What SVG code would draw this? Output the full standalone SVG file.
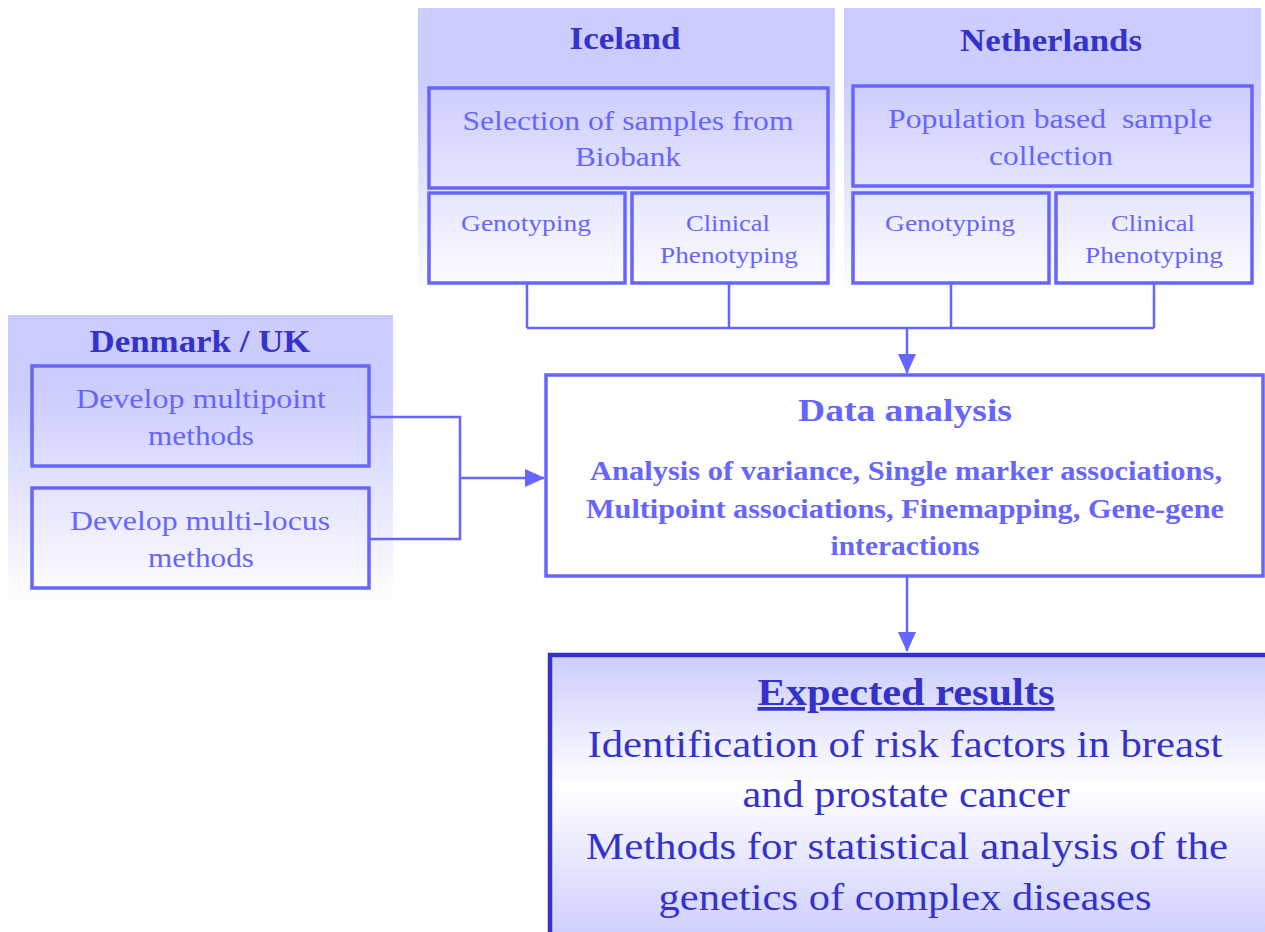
<svg xmlns="http://www.w3.org/2000/svg" width="1265" height="932" viewBox="0 0 1265 932">
<defs>
<linearGradient id="panel" x1="0" y1="0" x2="0" y2="1">
<stop offset="0" stop-color="#ccccff"/>
<stop offset="0.25" stop-color="#ccccff"/>
<stop offset="1" stop-color="#ffffff"/>
</linearGradient>
<linearGradient id="res" x1="0" y1="0" x2="0" y2="1">
<stop offset="0" stop-color="#ccccff"/>
<stop offset="0.45" stop-color="#ffffff"/>
<stop offset="1" stop-color="#ccccff"/>
</linearGradient>
<marker id="ah2" markerWidth="20" markerHeight="18" refX="19" refY="9" orient="auto" markerUnits="userSpaceOnUse" viewBox="0 0 20 18">
<path d="M0,0 L20,9 L0,18 z" fill="#6666ff"/>
</marker>
</defs>
<style>
.box{fill:none;stroke:#6666ff;stroke-width:3.5}
.t{font-family:"Liberation Serif","Times New Roman",serif;fill:#6666ff;text-anchor:middle}
.h{font-family:"Liberation Serif","Times New Roman",serif;fill:#3333cc;font-weight:bold;text-anchor:middle}
.big{font-family:"Liberation Serif","Times New Roman",serif;fill:#3333cc;text-anchor:middle;font-size:37px}
.c{fill:none;stroke:#6666ff;stroke-width:2.5}
</style>
<rect width="1265" height="932" fill="#ffffff"/>

<g id="iceland">
<rect x="418" y="8" width="417" height="290" fill="url(#panel)"/>
<text class="h" x="625" y="49" font-size="32" textLength="111" lengthAdjust="spacingAndGlyphs">Iceland</text>
</g>
<g id="iceland-selection">
<rect class="box" x="429" y="88" width="399" height="100"/>
<text class="t" x="628" y="130" font-size="27" textLength="331" lengthAdjust="spacingAndGlyphs">Selection of samples from</text>
<text class="t" x="628" y="166" font-size="27" textLength="106" lengthAdjust="spacingAndGlyphs">Biobank</text>
</g>
<g id="iceland-genotyping">
<rect class="box" x="429" y="193" width="196" height="90"/>
<text class="t" x="526" y="231" font-size="23" textLength="130" lengthAdjust="spacingAndGlyphs">Genotyping</text>
</g>
<g id="iceland-clinical">
<rect class="box" x="632" y="193" width="196" height="90"/>
<text class="t" x="728" y="231" font-size="23" textLength="84" lengthAdjust="spacingAndGlyphs">Clinical</text>
<text class="t" x="729" y="263" font-size="23" textLength="138" lengthAdjust="spacingAndGlyphs">Phenotyping</text>
</g>

<g id="netherlands">
<rect x="844" y="8" width="417" height="290" fill="url(#panel)"/>
<text class="h" x="1051" y="51" font-size="32" textLength="182" lengthAdjust="spacingAndGlyphs">Netherlands</text>
</g>
<g id="netherlands-population">
<rect class="box" x="853" y="86" width="399" height="100"/>
<text class="t" x="1050" y="128" font-size="27" textLength="324" lengthAdjust="spacingAndGlyphs" xml:space="preserve">Population based  sample</text>
<text class="t" x="1051" y="165" font-size="27" textLength="124" lengthAdjust="spacingAndGlyphs">collection</text>
</g>
<g id="netherlands-genotyping">
<rect class="box" x="853" y="193" width="196" height="90"/>
<text class="t" x="950" y="231" font-size="23" textLength="130" lengthAdjust="spacingAndGlyphs">Genotyping</text>
</g>
<g id="netherlands-clinical">
<rect class="box" x="1056" y="193" width="196" height="90"/>
<text class="t" x="1153" y="231" font-size="23" textLength="84" lengthAdjust="spacingAndGlyphs">Clinical</text>
<text class="t" x="1154" y="263" font-size="23" textLength="138" lengthAdjust="spacingAndGlyphs">Phenotyping</text>
</g>

<g id="denmark">
<rect x="8" y="315" width="385" height="290" fill="url(#panel)"/>
<text class="h" x="200" y="352" font-size="32" textLength="221" lengthAdjust="spacingAndGlyphs">Denmark / UK</text>
</g>
<g id="denmark-multipoint">
<rect class="box" x="32" y="366" width="337" height="100"/>
<text class="t" x="201" y="408" font-size="27" textLength="250" lengthAdjust="spacingAndGlyphs">Develop multipoint</text>
<text class="t" x="201" y="445" font-size="27" textLength="106" lengthAdjust="spacingAndGlyphs">methods</text>
</g>
<g id="denmark-multilocus">
<rect class="box" x="32" y="488" width="337" height="100"/>
<text class="t" x="200" y="530" font-size="27" textLength="260" lengthAdjust="spacingAndGlyphs">Develop multi-locus</text>
<text class="t" x="201" y="567" font-size="27" textLength="106" lengthAdjust="spacingAndGlyphs">methods</text>
</g>

<g id="data-analysis">
<rect x="546" y="375" width="717" height="201" fill="#ffffff" stroke="#6666ff" stroke-width="3.5"/>
<text class="t" x="905" y="421" font-size="31" font-weight="bold" textLength="214" lengthAdjust="spacingAndGlyphs">Data analysis</text>
<text class="t" x="906" y="480" font-size="27" font-weight="bold" textLength="632" lengthAdjust="spacingAndGlyphs">Analysis of variance, Single marker associations,</text>
<text class="t" x="905" y="518" font-size="27" font-weight="bold" textLength="638" lengthAdjust="spacingAndGlyphs">Multipoint associations, Finemapping, Gene-gene</text>
<text class="t" x="905" y="555" font-size="27" font-weight="bold" textLength="149" lengthAdjust="spacingAndGlyphs">interactions</text>
</g>

<g id="expected-results">
<rect x="550" y="655" width="720" height="290" fill="url(#res)" stroke="#3333cc" stroke-width="4.5"/>
<text class="h" x="906" y="705" font-size="37" text-decoration="underline" textLength="297" lengthAdjust="spacingAndGlyphs">Expected results</text>
<text class="big" x="905" y="757" textLength="635" lengthAdjust="spacingAndGlyphs">Identification of risk factors in breast</text>
<text class="big" x="906" y="807" textLength="327" lengthAdjust="spacingAndGlyphs">and prostate cancer</text>
<text class="big" x="907" y="859" textLength="642" lengthAdjust="spacingAndGlyphs">Methods for statistical analysis of the</text>
<text class="big" x="905" y="910" textLength="493" lengthAdjust="spacingAndGlyphs">genetics of complex diseases</text>
</g>

<g id="connectors">
<path class="c" d="M527,283 V328 M729,283 V328 M951,283 V328 M1154,283 V328 M527,328 H1154"/>
<path class="c" d="M907,328 V373" marker-end="url(#ah2)"/>
<path class="c" d="M369,417 H460 V539 H369"/>
<path class="c" d="M460,478 H544" marker-end="url(#ah2)"/>
<path class="c" d="M907,576 V651" marker-end="url(#ah2)"/>
</g>
</svg>
